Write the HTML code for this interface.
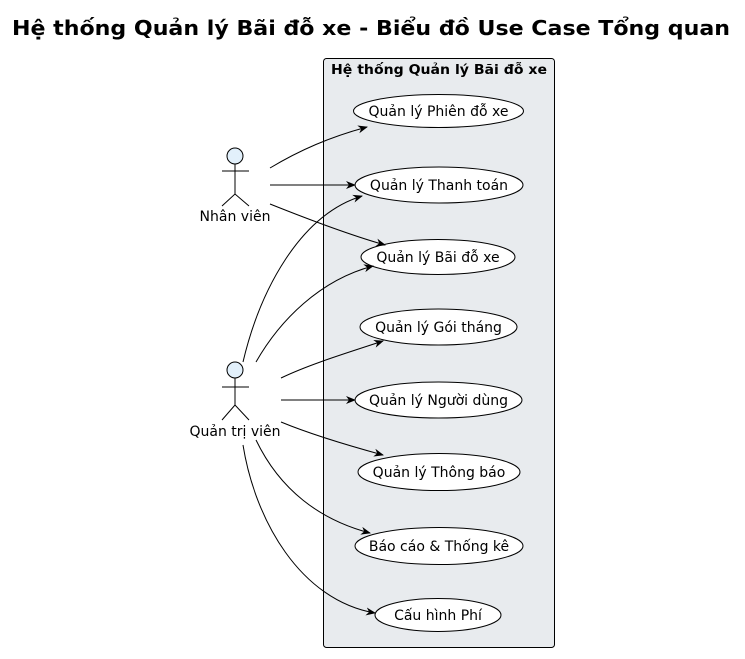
<!DOCTYPE html>
<html><head><meta charset="utf-8"><style>
html,body{margin:0;padding:0;background:#fff;}
svg{display:block;font-family:"DejaVu Sans","Liberation Sans",sans-serif;}
</style></head><body>
<svg width="745" height="659" viewBox="0 0 745 659" xmlns="http://www.w3.org/2000/svg">
<defs>
<marker id="a" viewBox="0 0 10 10" refX="9" refY="5" markerWidth="10" markerHeight="10" orient="auto" markerUnits="userSpaceOnUse">
<path d="M0,1 L10,5 L0,9 L3,5 Z" fill="#000"/>
</marker>
</defs>
<text x="12" y="35" font-size="20" font-weight="bold" textLength="718" lengthAdjust="spacingAndGlyphs">Hệ thống Quản lý Bãi đỗ xe - Biểu đồ Use Case Tổng quan</text>
<rect x="323.5" y="58.5" width="231" height="589" rx="3" fill="#e8ebee" stroke="#000" stroke-width="1"/>
<text x="331" y="74" font-size="13" font-weight="bold" textLength="216" lengthAdjust="spacingAndGlyphs">Hệ thống Quản lý Bãi đỗ xe</text>
<g fill="#fff" stroke="#000" stroke-width="1">
<ellipse cx="438.5" cy="111" rx="85" ry="16.5"/>
<ellipse cx="439" cy="185" rx="84" ry="18"/>
<ellipse cx="438" cy="257" rx="77" ry="17.5"/>
<ellipse cx="438.5" cy="327" rx="78.5" ry="18"/>
<ellipse cx="438.5" cy="400" rx="83.5" ry="18"/>
<ellipse cx="439" cy="472" rx="81" ry="18.5"/>
<ellipse cx="439" cy="546" rx="84" ry="18.5"/>
<ellipse cx="438" cy="615" rx="63" ry="16.5"/>
</g>
<g font-size="14" text-anchor="middle">
<text x="438.5" y="116">Quản lý Phiên đỗ xe</text>
<text x="439" y="190">Quản lý Thanh toán</text>
<text x="438" y="262">Quản lý Bãi đỗ xe</text>
<text x="438.5" y="332">Quản lý Gói tháng</text>
<text x="438.5" y="405">Quản lý Người dùng</text>
<text x="439" y="477">Quản lý Thông báo</text>
<text x="439" y="551">Báo cáo &amp; Thống kê</text>
<text x="438" y="620">Cấu hình Phí</text>
</g>
<g stroke="#000" stroke-width="1" fill="none">
<circle cx="235" cy="156" r="8" fill="#e2f0fb"/>
<path d="M235,164 V194 M222,171 H249 M222,206 L235,194 L249,206"/>
<circle cx="235" cy="370" r="8" fill="#e2f0fb"/>
<path d="M235,378 V405 M222,387 H249 M222,420 L235,405 L249,420"/>
</g>
<g font-size="14" text-anchor="middle">
<text x="235" y="221">Nhân viên</text>
<text x="235" y="436">Quản trị viên</text>
</g>
<g stroke="#000" stroke-width="1" fill="none" marker-end="url(#a)">
<path d="M270,168 C300,150 330,137 367,127"/>
<path d="M270,185 L355,185"/>
<path d="M270,204 C310,220 350,235 385,245"/>
<path d="M243,362 C260,290 300,215 362,196"/>
<path d="M256,362 C280,320 320,280 373,266"/>
<path d="M281,378 C310,364 350,352 383,341"/>
<path d="M281,400 L355,400"/>
<path d="M281,422 C310,434 350,446 383,455"/>
<path d="M256,440 C280,490 320,520 370,533"/>
<path d="M243,445 C255,520 300,600 375,613"/>
</g>
</svg>
</body></html>
